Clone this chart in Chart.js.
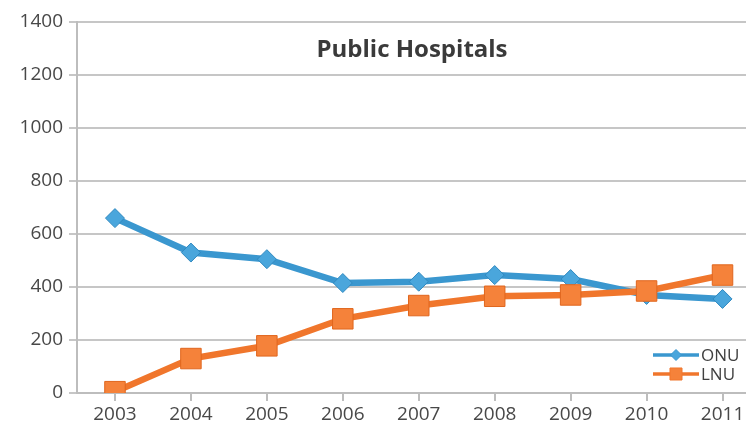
<!DOCTYPE html>
<html>
<head>
<meta charset="utf-8">
<script src="https://cdn.jsdelivr.net/npm/chart.js@4.4.0/dist/chart.umd.min.js"></script>
<style>
  html, body { margin: 0; padding: 0; background: #fff; overflow: hidden; }
  #wrap { width: 746px; height: 435px; overflow: hidden; position: relative; }
  canvas { position: absolute; left: 0; top: 0; }
</style>
</head>
<body>
<div id="wrap"><canvas id="c" width="776" height="435"></canvas></div>
<script>
const years = ['2003', '2004', '2005', '2006', '2007', '2008', '2009', '2010', '2011'];
const onu = [660, 530, 505, 415, 420, 445, 430, 370, 355];
const lnu = [5, 130, 178, 280, 330, 365, 370, 385, 445];
const yTicks = [0, 200, 400, 600, 800, 1000, 1200, 1400];

const BLUE = '#3a97cf';
const BLUE_PT = '#4aa6dc';
const ORANGE = '#f0762c';
const ORANGE_PT = '#f5823a';
const FONT = '"Open Sans", "Liberation Sans", sans-serif';

// Chart title and the legend both sit inside the plot area
const overlay = {
  id: 'overlay',
  afterDatasetsDraw(chart) {
    const ctx = chart.ctx;
    ctx.save();
    ctx.fillStyle = '#3a3a3a';
    ctx.font = 'bold 24px ' + FONT;
    ctx.textAlign = 'center';
    ctx.textBaseline = 'middle';
    ctx.fillText('Public Hospitals', 412, 50);

    const items = [
      { label: 'ONU', color: BLUE, pt: BLUE_PT, style: 'rectRot', r: 5.5, y: 355 },
      { label: 'LNU', color: ORANGE, pt: ORANGE_PT, style: 'rect', r: 8.5, y: 374 }
    ];
    ctx.font = '17px ' + FONT;
    ctx.textAlign = 'left';
    items.forEach(it => {
      ctx.strokeStyle = it.color;
      ctx.lineWidth = 3.5;
      ctx.beginPath();
      ctx.moveTo(653, it.y);
      ctx.lineTo(699, it.y);
      ctx.stroke();
      ctx.fillStyle = it.pt;
      ctx.strokeStyle = it.color;
      ctx.lineWidth = 1;
      Chart.helpers.drawPoint(ctx, { pointStyle: it.style, radius: it.r, borderWidth: 1 }, 676, it.y);
      ctx.fillStyle = '#404040';
      ctx.fillText(it.label, 701, it.y + 1);
    });
    ctx.restore();
  }
};

new Chart(document.getElementById('c'), {
  type: 'line',
  data: {
    labels: years,
    datasets: [
      {
        label: 'ONU',
        data: onu,
        borderColor: BLUE,
        backgroundColor: BLUE_PT,
        borderWidth: 6.5,
        pointStyle: 'rectRot',
        pointRadius: 9.5,
        pointBorderColor: '#3089c0',
        pointBorderWidth: 1,
        pointBackgroundColor: BLUE_PT,
        tension: 0,
        order: 2
      },
      {
        label: 'LNU',
        data: lnu,
        borderColor: ORANGE,
        backgroundColor: ORANGE_PT,
        borderWidth: 6.5,
        pointStyle: 'rect',
        pointRadius: 14.5,
        pointBorderColor: '#e0661e',
        pointBorderWidth: 1,
        pointBackgroundColor: ORANGE_PT,
        tension: 0,
        order: 1
      }
    ]
  },
  options: {
    responsive: false,
    animation: false,
    layout: { padding: { top: 22, right: 4, left: 0, bottom: 0 } },
    plugins: {
      legend: { display: false },
      tooltip: { enabled: false },
      title: { display: false }
    },
    scales: {
      x: {
        type: 'category',
        offset: true,
        grid: {
          drawOnChartArea: false,
          drawTicks: true,
          tickLength: 8,
          color: '#bdbdbd',
          lineWidth: 2
        },
        border: { display: true, color: '#bdbdbd', width: 2 },
        ticks: {
          color: '#484848',
          font: { family: FONT, size: 19 },
          padding: 2,
          maxRotation: 0,
          autoSkip: false
        },
        afterFit(s) { s.height = 42; s.paddingLeft = 0; s.paddingRight = 0; }
      },
      y: {
        min: 0,
        max: 1400,
        afterBuildTicks(s) { s.ticks = yTicks.map(v => ({ value: v })); },
        grid: {
          color: '#c6c6c6',
          lineWidth: 2,
          tickLength: 8
        },
        border: { display: true, color: '#bdbdbd', width: 2 },
        ticks: {
          color: '#484848',
          font: { family: FONT, size: 19 },
          padding: 6,
          callback: v => String(v)
        },
        afterFit(s) { s.width = 77; }
      }
    }
  },
  plugins: [overlay]
});
</script>
</body>
</html>
